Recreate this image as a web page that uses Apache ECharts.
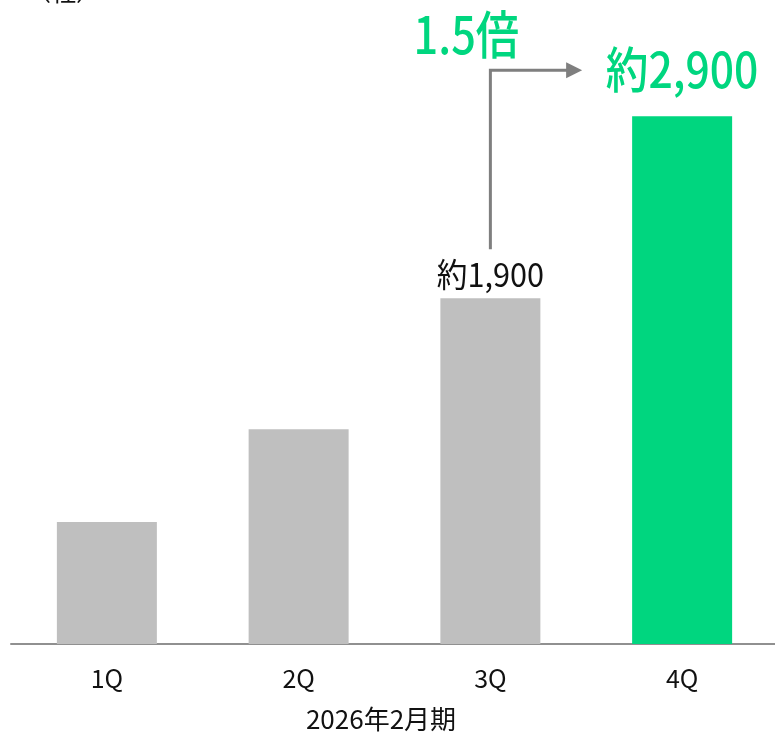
<!DOCTYPE html>
<html>
<head>
<meta charset="utf-8">
<style>
  html, body { margin: 0; padding: 0; background: #ffffff; }
  #chart { width: 775px; height: 732px; }
</style>
<script src="https://cdn.jsdelivr.net/npm/echarts@6/dist/echarts.min.js"></script>
</head>
<body>
<div id="chart"></div>
<script>
// Quarterly figures for the fiscal year ending February 2026 (unit: companies)
const quarters = ['1Q', '2Q', '3Q', '4Q'];
const counts = [670, 1180, 1900, 2900];
const barColors = ['#bfbfbf', '#bfbfbf', '#bfbfbf', '#00d67f'];
// Quarters that carry a value label, and the growth call-out between them
const labelledQuarters = [2, 3];
const growthText = '1.5倍';
const periodText = '2026年2月期';
const unitText = '（社）';

const FONT = '"Noto Sans CJK JP", "Noto Sans", sans-serif';
const GREEN = '#00d67f';
const ARROW = '#7f7f7f';

const fmt = v => '約' + v.toLocaleString('en-US');

const chart = echarts.init(document.getElementById('chart'), null, { renderer: 'canvas' });

function renderNotes(params, api) {
  const qi = api.value(0);
  const val = api.value(1);
  const p = api.coord([qi, val]);
  if (qi !== 3) {
    // regular value label above the bar
    return {
      type: 'text',
      x: p[0], y: p[1] - 24,
      scaleX: 0.93,
      style: {
        text: fmt(val), fill: '#111111',
        fontFamily: FONT, fontSize: 33, fontWeight: 'normal',
        align: 'center', verticalAlign: 'middle'
      }
    };
  }
  // highlighted label plus growth arrow from the previous quarter
  const prev = api.coord([2, counts[2]]);
  const arrowY = p[1] - 46;
  const tipX = p[0] - 100;
  return {
    type: 'group',
    children: [
      {
        type: 'text',
        x: p[0], y: p[1] - 47,
        scaleX: 0.87,
        style: {
          text: fmt(val), fill: GREEN,
          fontFamily: FONT, fontSize: 49, fontWeight: 500,
          align: 'center', verticalAlign: 'middle'
        }
      },
      {
        type: 'polyline',
        shape: { points: [[prev[0], prev[1] - 49], [prev[0], arrowY], [tipX - 14, arrowY]] },
        style: { stroke: ARROW, lineWidth: 3, fill: null }
      },
      {
        type: 'polygon',
        shape: { points: [[tipX - 16, arrowY - 8], [tipX, arrowY], [tipX - 16, arrowY + 8]] },
        style: { fill: ARROW }
      },
      {
        type: 'text',
        x: prev[0] - 24, y: arrowY - 36,
        scaleX: 0.85,
        style: {
          text: growthText, fill: GREEN,
          fontFamily: FONT, fontSize: 51, fontWeight: 500,
          align: 'center', verticalAlign: 'middle'
        }
      }
    ]
  };
}

chart.setOption({
  animation: false,
  backgroundColor: '#ffffff',
  grid: {
    left: 11, width: 767, top: 98, bottom: 88,
    containLabel: false, outerBoundsMode: 'none'
  },
  xAxis: {
    type: 'category',
    data: quarters,
    axisLine: { show: true, lineStyle: { color: '#909090', width: 2 } },
    axisTick: { show: false },
    axisLabel: {
      color: '#111111', fontFamily: FONT, fontSize: 25, margin: 22
    }
  },
  yAxis: {
    type: 'value',
    min: 0, max: 3000,
    show: false,
    splitLine: { show: false }
  },
  graphic: [
    {
      type: 'text',
      style: {
        text: periodText, x: 381, y: 719,
        fill: '#111111', font: '26px ' + FONT,
        align: 'center', verticalAlign: 'middle'
      }
    },
    {
      type: 'text',
      style: {
        text: unitText, x: 26, y: -9,
        fill: '#111111', font: '25px ' + FONT,
        align: 'left', verticalAlign: 'middle'
      }
    }
  ],
  series: [
    {
      type: 'bar',
      data: counts.map((v, i) => ({ value: v, itemStyle: { color: barColors[i] } })),
      barWidth: 100,
      silent: true
    },
    {
      type: 'custom',
      data: labelledQuarters.map(i => [i, counts[i]]),
      renderItem: renderNotes,
      clip: false,
      silent: true,
      z: 5
    }
  ]
});
</script>
</body>
</html>
